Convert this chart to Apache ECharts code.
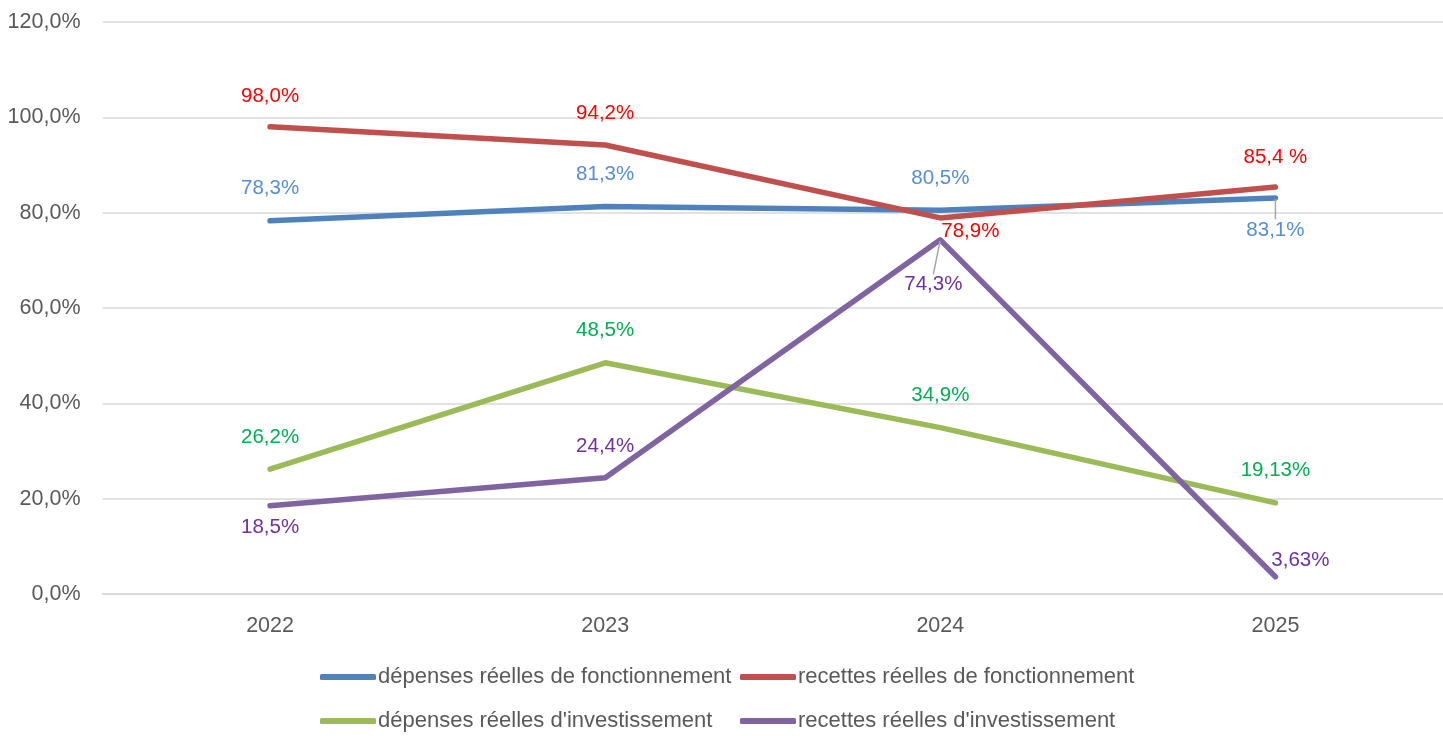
<!DOCTYPE html>
<html>
<head>
<meta charset="utf-8">
<title>Taux de réalisation</title>
<script src="https://cdn.jsdelivr.net/npm/echarts@6/dist/echarts.min.js"></script>
<style>
  html, body { margin: 0; padding: 0; background: #fff; }
  #chart { width: 1443px; height: 756px; }
</style>
</head>
<body>
<div id="chart"></div>
<script>
// données
const years = ['2022', '2023', '2024', '2025'];
const yTicks = [0, 20, 40, 60, 80, 100, 120];

const depFonct = [78.3, 81.3, 80.5, 83.1];
const recFonct = [98.0, 94.2, 78.9, 85.4];
const depInvest = [26.2, 48.5, 34.9, 19.13];
const recInvest = [18.5, 24.4, 74.3, 3.63];

const depFonctLabels = ['78,3%', '81,3%', '80,5%', '83,1%'];
const recFonctLabels = ['98,0%', '94,2%', '78,9%', '85,4 %'];
const depInvestLabels = ['26,2%', '48,5%', '34,9%', '19,13%'];
const recInvestLabels = ['18,5%', '24,4%', '74,3%', '3,63%'];

// position des étiquettes : [dx, dy] par rapport au point
const labelPos = [
  [[0, -32], [0, -32], [0, -32], [0, 32]],
  [[0, -31], [0, -32], [30, 13], [0, -30]],
  [[0, -32], [0, -32], [0, -32], [0, -32]],
  [[0, 22], [0, -31], [-7, 45], [25, -16]]
];
const withLeader = { '0-3': true, '3-2': true };

function buildData(values, labels, si) {
  return values.map(function (v, i) {
    return {
      value: v,
      label: { formatter: labels[i] },
      labelLine: { show: !!withLeader[si + '-' + i] }
    };
  });
}

function makeSeries(name, values, labels, lineColor, labelColor, si) {
  return {
    name: name,
    type: 'line',
    data: buildData(values, labels, si),
    symbol: 'circle',
    symbolSize: 2,
    showSymbol: true,
    smooth: false,
    lineStyle: { color: lineColor, width: 5.5, cap: 'round', join: 'round' },
    itemStyle: { color: lineColor },
    label: {
      show: true,
      position: 'inside',
      color: labelColor,
      fontSize: 20.5,
      fontFamily: 'Liberation Sans'
    },
    labelLine: { show: false, lineStyle: { color: '#a6a6a6', width: 1.5 } },
    labelLayout: function (p) {
      const d = labelPos[si][p.dataIndex];
      return { dx: d[0], dy: d[1] };
    },
    z: 2 + si
  };
}

const legendText = { color: '#595959', fontSize: 22, fontFamily: 'Liberation Sans', padding: [0, 0, 0, -3] };

const chart = echarts.init(document.getElementById('chart'));
chart.setOption({
  animation: false,
  grid: { left: 102.5, right: 0, top: 22, bottom: 162, containLabel: false },
  legend: [
    {
      orient: 'vertical',
      left: 315,
      top: 661,
      itemGap: 22,
      itemWidth: 56,
      itemHeight: 6,
      icon: 'roundRect',
      textStyle: legendText,
      data: ['dépenses réelles de fonctionnement', 'dépenses réelles d\'investissement']
    },
    {
      orient: 'vertical',
      left: 735,
      top: 661,
      itemGap: 22,
      itemWidth: 56,
      itemHeight: 6,
      icon: 'roundRect',
      textStyle: legendText,
      data: ['recettes réelles de fonctionnement', 'recettes réelles d\'investissement']
    }
  ],
  xAxis: {
    type: 'category',
    data: years,
    boundaryGap: true,
    axisLine: { lineStyle: { color: '#d9d9d9', width: 1.5 } },
    axisTick: { show: false },
    axisLabel: { color: '#595959', fontSize: 21.5, fontFamily: 'Liberation Sans', margin: 21 }
  },
  yAxis: {
    type: 'value',
    min: yTicks[0],
    max: yTicks[yTicks.length - 1],
    interval: yTicks[1] - yTicks[0],
    axisLine: { show: false },
    axisTick: { show: false },
    splitLine: { lineStyle: { color: '#d9d9d9', width: 1.5 } },
    axisLabel: {
      color: '#595959',
      fontSize: 21.5,
      fontFamily: 'Liberation Sans',
      margin: 22,
      formatter: function (v) { return v.toFixed(1).replace('.', ',') + '%'; }
    }
  },
  series: [
    makeSeries('dépenses réelles de fonctionnement', depFonct, depFonctLabels, '#4f81bd', '#558ed5', 0),
    makeSeries('recettes réelles de fonctionnement', recFonct, recFonctLabels, '#c0504d', '#ff0000', 1),
    makeSeries('dépenses réelles d\'investissement', depInvest, depInvestLabels, '#9bbb59', '#00b050', 2),
    makeSeries('recettes réelles d\'investissement', recInvest, recInvestLabels, '#8064a2', '#7030a0', 3)
  ]
});
window.addEventListener('resize', function () {
  chart.resize();
});
</script>
</body>
</html>
